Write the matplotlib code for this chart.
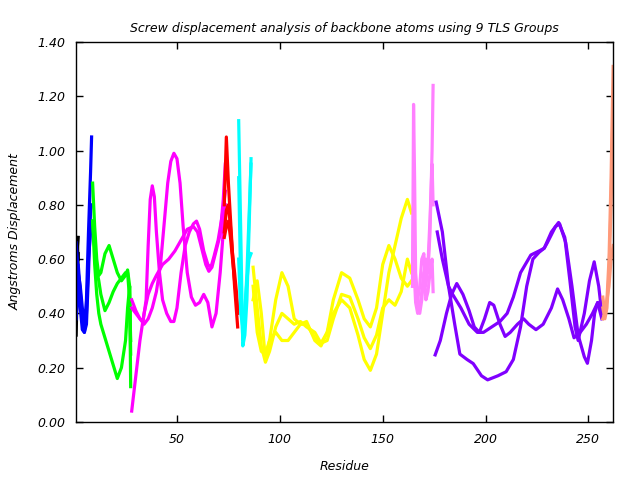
import numpy as np
import matplotlib.pyplot as plt

# residue positions and displacement values
# each TLS group has three curves drawn in the same colour
black_x = [1, 1.5, 2]
black_y = [[0.32, 0.50, 0.62], [0.45, 0.66, 0.60], [0.55, 0.62, 0.68]]

blue_x = [1, 2, 3, 4, 5, 6, 7, 8, 8.5]
blue_y = [[0.66, 0.55, 0.50, 0.42, 0.35, 0.45, 0.70, 0.92, 1.05],
          [0.45, 0.58, 0.48, 0.38, 0.33, 0.36, 0.55, 0.78, 0.80],
          [0.38, 0.50, 0.42, 0.34, 0.33, 0.40, 0.60, 0.70, 0.74]]

green_x = [9, 10, 11, 12, 13, 15, 17, 19, 21, 23, 25, 26, 27, 27.5]
green_y = [[0.88, 0.72, 0.60, 0.54, 0.55, 0.62, 0.65, 0.60, 0.55, 0.52, 0.54, 0.56, 0.50, 0.13],
           [0.74, 0.64, 0.56, 0.52, 0.47, 0.41, 0.44, 0.48, 0.51, 0.53, 0.55, 0.55, 0.45, 0.30],
           [0.74, 0.58, 0.47, 0.40, 0.36, 0.31, 0.26, 0.21, 0.16, 0.20, 0.30, 0.42, 0.50, 0.25]]

magenta_ax = [28, 30, 32, 34, 36, 38, 40, 43, 46, 49, 52, 55, 58, 60, 62, 64, 65.5, 67, 69, 71, 72.5, 73.5]
magenta_ay = [0.04, 0.17, 0.30, 0.40, 0.47, 0.51, 0.54, 0.58, 0.60, 0.63, 0.67, 0.71, 0.72, 0.70, 0.64,
              0.58, 0.555, 0.57, 0.63, 0.69, 0.82, 0.95]
magenta_bx = [28, 30, 32, 33.5, 35, 36, 37, 38, 39, 40, 41.5, 43, 45, 47, 48.5, 50, 52, 54, 56, 58,
              59.5, 61, 63, 65, 66.5, 68, 70, 72, 73.5]
magenta_by = [0.45, 0.41, 0.38, 0.37, 0.45, 0.65, 0.82, 0.87, 0.83, 0.70, 0.55, 0.45, 0.40, 0.37, 0.37,
              0.42, 0.55, 0.65, 0.70, 0.73, 0.74, 0.71, 0.63, 0.58, 0.57, 0.61, 0.67, 0.76, 0.85]
magenta_cx = [28, 30, 32, 34, 36, 38, 40, 42, 44, 45.5, 47, 48.5, 50, 51.5, 53, 55, 57, 59, 61, 63,
              65, 67, 69, 71, 72.5, 73.5]
magenta_cy = [0.42, 0.40, 0.38, 0.36, 0.38, 0.42, 0.48, 0.58, 0.75, 0.88, 0.96, 0.99, 0.97, 0.88, 0.72,
              0.55, 0.46, 0.43, 0.44, 0.47, 0.44, 0.35, 0.40, 0.55, 0.70, 0.80]

red_x = [73, 74, 75, 76, 77, 78, 79, 79.5]
red_y = [[0.80, 1.05, 0.88, 0.75, 0.62, 0.50, 0.40, 0.35],
         [0.70, 0.78, 0.80, 0.72, 0.62, 0.55, 0.47, 0.40],
         [0.68, 0.72, 0.74, 0.68, 0.60, 0.52, 0.45, 0.42]]

cyan_x = [80, 81, 82, 83, 84, 85, 86]
cyan_y = [[1.11, 0.70, 0.28, 0.32, 0.45, 0.70, 0.97],
          [0.90, 0.50, 0.30, 0.40, 0.55, 0.75, 0.95],
          [0.60, 0.40, 0.35, 0.42, 0.52, 0.60, 0.62]]

yellow_x = [87, 89, 91, 93, 95, 98, 101, 104, 107, 110, 113, 117, 120, 123, 126, 130, 134, 138, 141,
            144, 147, 150, 153, 156, 159, 162, 164]
yellow_y = [[0.45, 0.52, 0.40, 0.23, 0.30, 0.45, 0.55, 0.50, 0.38, 0.36, 0.37, 0.30, 0.28, 0.33, 0.45,
             0.55, 0.53, 0.45, 0.38, 0.35, 0.42, 0.58, 0.65, 0.60, 0.53, 0.50, 0.52],
            [0.57, 0.42, 0.28, 0.22, 0.26, 0.35, 0.40, 0.38, 0.36, 0.37, 0.35, 0.33, 0.29, 0.30, 0.38,
             0.47, 0.46, 0.38, 0.31, 0.27, 0.32, 0.42, 0.45, 0.43, 0.48, 0.60, 0.55],
            [0.50, 0.33, 0.26, 0.25, 0.30, 0.33, 0.30, 0.30, 0.33, 0.36, 0.36, 0.31, 0.29, 0.33, 0.40,
             0.45, 0.42, 0.32, 0.23, 0.19, 0.25, 0.40, 0.55, 0.65, 0.75, 0.82, 0.77]]

pink_x = [164.5, 165, 165.5, 166, 167, 168, 169, 170, 171, 172, 173, 174, 174.5]
pink_y = [[0.50, 1.17, 0.90, 0.55, 0.45, 0.40, 0.45, 0.55, 0.60, 0.55, 0.70, 1.00, 1.24],
          [0.55, 0.80, 0.62, 0.52, 0.45, 0.50, 0.60, 0.62, 0.50, 0.58, 0.75, 0.95, 0.80],
          [0.50, 0.62, 0.52, 0.44, 0.40, 0.42, 0.48, 0.55, 0.45, 0.48, 0.55, 0.60, 0.48]]

purple_ax = [176, 179, 182, 185, 187.5, 191, 194, 198, 201, 206, 210, 213.5, 217, 220, 223, 226, 228.5,
             232, 235.5, 238.5, 241, 243.5, 245, 248, 250.5, 252.8, 255, 256.5]
purple_ay = [0.81, 0.70, 0.50, 0.36, 0.25, 0.23, 0.215, 0.17, 0.155, 0.17, 0.185, 0.23, 0.35, 0.50,
             0.60, 0.625, 0.64, 0.70, 0.735, 0.68, 0.52, 0.35, 0.30, 0.40, 0.52, 0.59, 0.50, 0.40]
purple_bx = [176.5, 179, 182, 184, 188, 192, 196, 199, 203, 207, 210.5, 213.5, 217, 222, 226, 228.5,
             230, 234, 236, 239, 242, 245, 248, 249.5, 251.5, 253, 254.5, 256.5]
purple_by = [0.70, 0.60, 0.50, 0.47, 0.42, 0.36, 0.33, 0.33, 0.35, 0.37, 0.40, 0.46, 0.55, 0.615,
             0.63, 0.64, 0.66, 0.72, 0.73, 0.66, 0.50, 0.32, 0.24, 0.216, 0.30, 0.40, 0.44, 0.40]
purple_cx = [175.5, 178, 181, 183.5, 186, 189, 192, 194.5, 197, 199.5, 202, 204, 207, 209.5, 212,
             215.5, 218.5, 221, 224.5, 228, 232, 235, 237.5, 240.5, 243, 246, 249, 252, 254.5, 256.5]
purple_cy = [0.247, 0.30, 0.40, 0.47, 0.51, 0.47, 0.41, 0.35, 0.33, 0.38, 0.44, 0.43, 0.36, 0.315,
             0.33, 0.36, 0.38, 0.36, 0.34, 0.36, 0.42, 0.49, 0.45, 0.38, 0.31, 0.33, 0.36, 0.40, 0.44, 0.38]

salmon_x = [257, 258, 259, 260, 261, 262]
salmon_y = [[0.38, 0.40, 0.45, 0.60, 0.90, 1.31],
            [0.42, 0.38, 0.42, 0.55, 0.80, 1.18],
            [0.46, 0.40, 0.45, 0.50, 0.60, 0.65]]

fig = plt.figure(figsize=(6.4, 4.8), dpi=100)
ax = fig.add_axes([0.119, 0.121, 0.839, 0.7915])

lw = 2.3
for y in black_y:
    ax.plot(black_x, y, color='black', lw=lw)
for y in blue_y:
    ax.plot(blue_x, y, color='#0000ff', lw=lw)
for y in green_y:
    ax.plot(green_x, y, color='#00ff00', lw=lw)
ax.plot(magenta_ax, magenta_ay, color='#ff00ff', lw=lw)
ax.plot(magenta_bx, magenta_by, color='#ff00ff', lw=lw)
ax.plot(magenta_cx, magenta_cy, color='#ff00ff', lw=lw)
for y in red_y:
    ax.plot(red_x, y, color='#ff0000', lw=lw)
for y in cyan_y:
    ax.plot(cyan_x, y, color='#00ffff', lw=lw)
for y in yellow_y:
    ax.plot(yellow_x, y, color='#ffff00', lw=lw)
for y in pink_y:
    ax.plot(pink_x, y, color='#ff80ff', lw=lw)
ax.plot(purple_ax, purple_ay, color='#8000ff', lw=lw)
ax.plot(purple_bx, purple_by, color='#8000ff', lw=lw)
ax.plot(purple_cx, purple_cy, color='#8000ff', lw=lw)
for y in salmon_y:
    ax.plot(salmon_x, y, color='#ff9a7a', lw=lw)

ax.set_xlim(1, 262)
ax.set_ylim(0, 1.4)
ax.set_xticks([50, 100, 150, 200, 250])
ax.set_yticks(np.arange(0, 1.41, 0.2))
ax.set_yticklabels(['%.2f' % v for v in np.arange(0, 1.41, 0.2)])
ax.tick_params(direction='in', top=True, right=True, length=5, width=1, labelsize=9, pad=8)
for lab in ax.get_xticklabels() + ax.get_yticklabels():
    lab.set_fontstyle('italic')
for s in ax.spines.values():
    s.set_linewidth(1)

ax.set_title('Screw displacement analysis of backbone atoms using 9 TLS Groups',
             fontsize=9, style='italic', pad=7)
ax.set_xlabel('Residue', fontsize=9, style='italic', labelpad=10)
ax.set_ylabel('Angstroms Displacement', fontsize=9, style='italic', labelpad=11)

fig.savefig('out.png', dpi=100)
